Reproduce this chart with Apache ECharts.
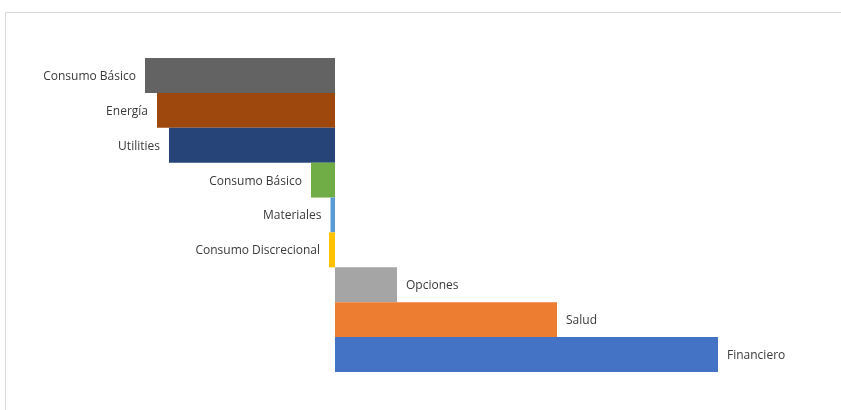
<!DOCTYPE html>
<html>
<head>
<meta charset="utf-8">
<script src="https://cdn.jsdelivr.net/npm/echarts@6/dist/echarts.min.js"></script>
<style>
  html, body { margin: 0; padding: 0; background: #fff; }
  #chart { width: 841px; height: 410px; }
</style>
</head>
<body>
<div id="chart"></div>
<script>
// sectores, de arriba hacia abajo
var sectores = ['Consumo Básico', 'Energía', 'Utilities', 'Consumo Básico', 'Materiales',
                'Consumo Discrecional', 'Opciones', 'Salud', 'Financiero'];
var valores = [-190, -178, -166, -24, -4.5, -6, 62, 222, 383];

// paleta tipo Office
var colores = ['#636363', '#9E480E', '#264478', '#70AD47', '#5B9BD5',
               '#FFC000', '#A5A5A5', '#ED7D31', '#4472C4'];

var chart = echarts.init(document.getElementById('chart'));

var datos = [];
for (var i = 0; i < valores.length; i++) {
    datos.push({
        value: valores[i],
        itemStyle: { color: colores[i] },
        label: { position: valores[i] < 0 ? 'left' : 'right' }
    });
}

chart.setOption({
    animation: false,
    graphic: [{
        type: 'rect',
        shape: { x: 5.5, y: 12.5, width: 900, height: 500 },
        style: { fill: 'none', stroke: '#d9d9d9', lineWidth: 1 },
        silent: true
    }],
    grid: { left: 135, right: 106, top: 58, bottom: 38 },
    xAxis: {
        type: 'value',
        min: -200,
        max: 400,
        show: false
    },
    yAxis: {
        type: 'category',
        data: sectores,
        inverse: true,
        show: false
    },
    series: [{
        type: 'bar',
        data: datos,
        barCategoryGap: 0,
        label: {
            show: true,
            distance: 9,
            color: '#3a3a3a',
            fontSize: 12,
            fontFamily: 'Open Sans',
            offset: [0, 1],
            formatter: function (p) { return p.name; }
        }
    }]
});
</script>
</body>
</html>
